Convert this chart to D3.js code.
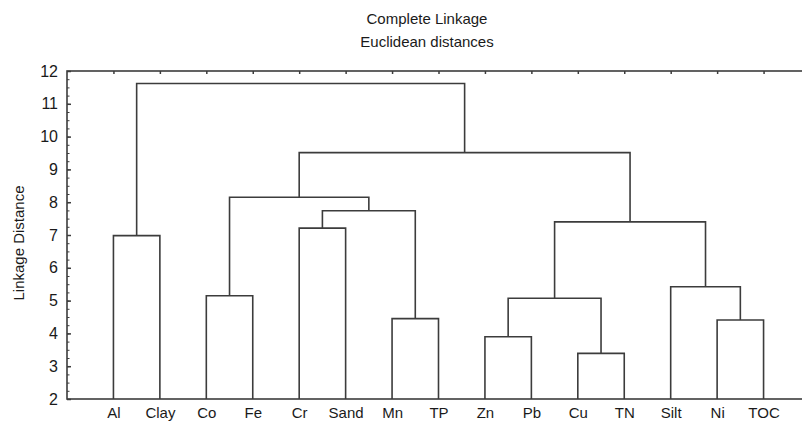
<!DOCTYPE html>
<html>
<head>
<meta charset="utf-8">
<script src="https://cdn.jsdelivr.net/npm/d3@7"></script>
<style>
  html, body { margin: 0; padding: 0; background: #fff; }
  svg { display: block; }
  text { font-family: "Liberation Sans", Arial, sans-serif; fill: #1a1a1a; }
</style>
</head>
<body>
<svg id="chart" width="802" height="422"></svg>
<script>
// ---- data ----
const leaves = ["Al","Clay","Co","Fe","Cr","Sand","Mn","TP","Zn","Pb","Cu","TN","Silt","Ni","TOC"];
// merges: left member, right member, linkage distance; clusters are named c0, c1, ... in order
const mergeLeft   = ["Cu","Zn","Ni","Mn","c1","Co","Silt","Al","Cr","c4","c8","c5","c11","c7"];
const mergeRight  = ["TN","Pb","TOC","TP","c0","Fe","c2","Clay","Sand","c6","c3","c10","c9","c12"];
const mergeHeight = [3.39,3.90,4.41,4.45,5.07,5.15,5.42,6.98,7.21,7.40,7.74,8.15,9.51,11.62];
const yTicks = [2,3,4,5,6,7,8,9,10,11,12];
const titleLines = ["Complete Linkage", "Euclidean distances"];
const yTitle = "Linkage Distance";

(function () {
const nodes = {};
leaves.forEach(l => nodes[l] = {name: l, height: 0});
mergeLeft.forEach((l, i) => {
  nodes["c" + i] = {name: "c" + i, height: mergeHeight[i], children: [nodes[l], nodes[mergeRight[i]]]};
});
const root = d3.hierarchy(nodes["c" + (mergeLeft.length - 1)]);

const svg = d3.select("#chart");
const pL = 67, pR = 810, pT = 71, pB = 399;
const x = d3.scalePoint().domain(leaves).range([pL, pR]).padding(1);
const y = d3.scaleLinear().domain([2, 12]).range([pB, pT]);

root.eachAfter(n => {
  if (!n.children) { n.px = x(n.data.name); n.py = y(2); }
  else {
    n.px = (n.children[0].px + n.children[1].px) / 2;
    n.py = y(n.data.height);
  }
});

const stroke = "#3c3c3c";
const font = "Liberation Sans, Arial, sans-serif";

svg.append("rect").attr("x", pL).attr("y", pT)
  .attr("width", pR - pL).attr("height", pB - pT)
  .attr("fill", "none").attr("stroke", stroke).attr("stroke-width", 1.6);

const minor = d3.range(2, 12.001, 0.25);
svg.append("g").attr("transform", `translate(${pL},0)`)
  .call(d3.axisLeft(y).tickValues(minor).tickSize(-2.5).tickFormat(""))
  .call(g => g.select(".domain").remove())
  .call(g => g.selectAll("line").attr("stroke", stroke).attr("stroke-width", 1));

svg.append("g").attr("transform", `translate(${pL},0)`)
  .call(d3.axisLeft(y).tickValues(yTicks).tickSize(-4).tickPadding(9).tickFormat(d3.format("d")))
  .call(g => g.select(".domain").remove())
  .call(g => g.selectAll("line").attr("stroke", stroke).attr("stroke-width", 1.5))
  .call(g => g.selectAll("text").attr("font-size", 16).attr("fill", "#1a1a1a").attr("font-family", font));

svg.append("g").attr("transform", `translate(0,${pT})`)
  .call(d3.axisTop(x).tickSize(-3).tickFormat(""))
  .call(g => g.select(".domain").remove())
  .call(g => g.selectAll("line").attr("stroke", stroke).attr("stroke-width", 1.5));

svg.append("g").attr("transform", `translate(0,${pB})`)
  .call(d3.axisBottom(x).tickSize(0).tickPadding(8))
  .call(g => g.select(".domain").remove())
  .call(g => g.selectAll("text").attr("font-size", 15).attr("fill", "#1a1a1a").attr("font-family", font));

const links = [];
root.each(n => {
  if (n.children) {
    const [a, b] = n.children;
    links.push(`M${a.px},${a.py}V${n.py}H${b.px}V${b.py}`);
  }
});
svg.append("g").selectAll("path").data(links).join("path")
  .attr("d", d => d).attr("fill", "none")
  .attr("stroke", stroke).attr("stroke-width", 1.6);

svg.append("text").attr("x", 427).attr("y", 24).attr("text-anchor", "middle")
  .attr("font-size", 15).text(titleLines[0]);
svg.append("text").attr("x", 427).attr("y", 47).attr("text-anchor", "middle")
  .attr("font-size", 15).text(titleLines[1]);

svg.append("text").attr("transform", `translate(24,${(pT + pB) / 2 + 8}) rotate(-90)`)
  .attr("text-anchor", "middle").attr("font-size", 15).text(yTitle);
})();
</script>
</body>
</html>
